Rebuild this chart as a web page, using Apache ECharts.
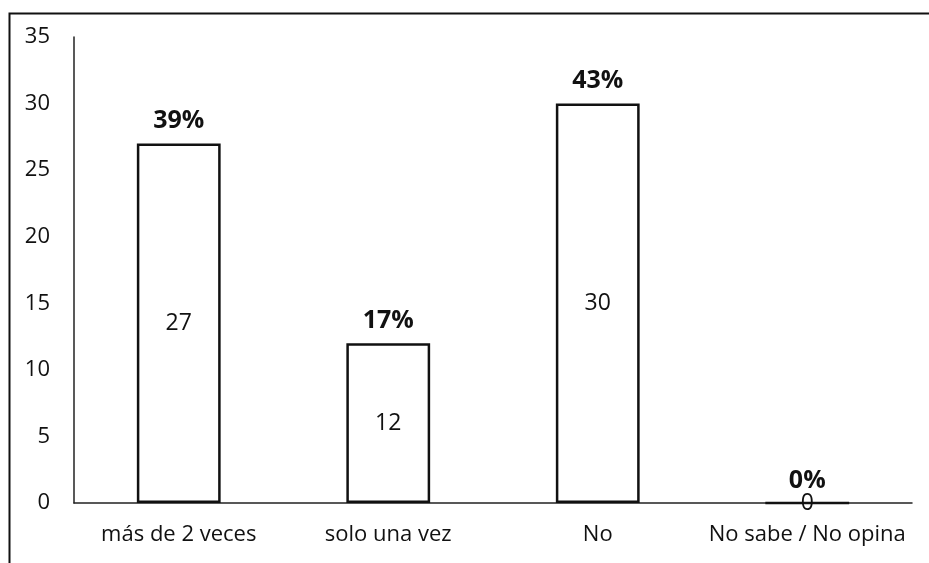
<!DOCTYPE html>
<html><head><meta charset="utf-8">
<script src="https://cdn.jsdelivr.net/npm/echarts@6/dist/echarts.min.js"></script>
<style>html,body{margin:0;padding:0;background:#fff}#c{width:929px;height:563px}</style>
</head><body><div id="c"></div>
<script>
const categories = ['más de 2 veces', 'solo una vez', 'No', 'No sabe / No opina'];
const counts = [27, 12, 30, 0];
const percents = ['39%', '17%', '43%', '0%'];
const yTicks = [0, 5, 10, 15, 20, 25, 30, 35];

const chart = echarts.init(document.getElementById('c'));
const font = '"Open Sans", sans-serif';
chart.setOption({
  animation: false,
  backgroundColor: '#fff',
  grid: { left: 74, right: 17, top: 37, bottom: 60 },
  graphic: [{
    type: 'rect', left: 7, top: 11,
    shape: { width: 940, height: 570 },
    style: { fill: 'none', stroke: '#111', lineWidth: 2 },
    silent: true
  }],
  xAxis: {
    type: 'category', data: categories,
    axisLine: { lineStyle: { color: '#222', width: 1.5 } },
    axisTick: { show: false },
    axisLabel: { interval: 0, color: '#111', fontSize: 22, fontFamily: font, margin: 21 }
  },
  yAxis: {
    type: 'value', min: yTicks[0], max: yTicks[yTicks.length - 1], interval: 5,
    axisLine: { show: true, lineStyle: { color: '#222', width: 1.5 } },
    axisTick: { show: false },
    splitLine: { show: false },
    axisLabel: { color: '#111', fontSize: 22, fontFamily: font, margin: 24 }
  },
  series: [{
    type: 'bar', data: counts, barWidth: '40%',
    itemStyle: { color: '#fff', borderColor: '#111', borderWidth: 2.5 },
    label: { show: true, position: 'inside', color: '#111', fontSize: 23, fontFamily: font }
  }, {
    type: 'bar', data: counts, barWidth: '40%', barGap: '-100%',
    itemStyle: { color: 'rgba(0,0,0,0)', borderWidth: 0 },
    label: {
      show: true, position: 'top', distance: 10, color: '#111', fontSize: 25,
      fontWeight: 'bold', fontFamily: font,
      formatter: p => percents[p.dataIndex]
    },
    z: 3
  }]
});
</script></body></html>
